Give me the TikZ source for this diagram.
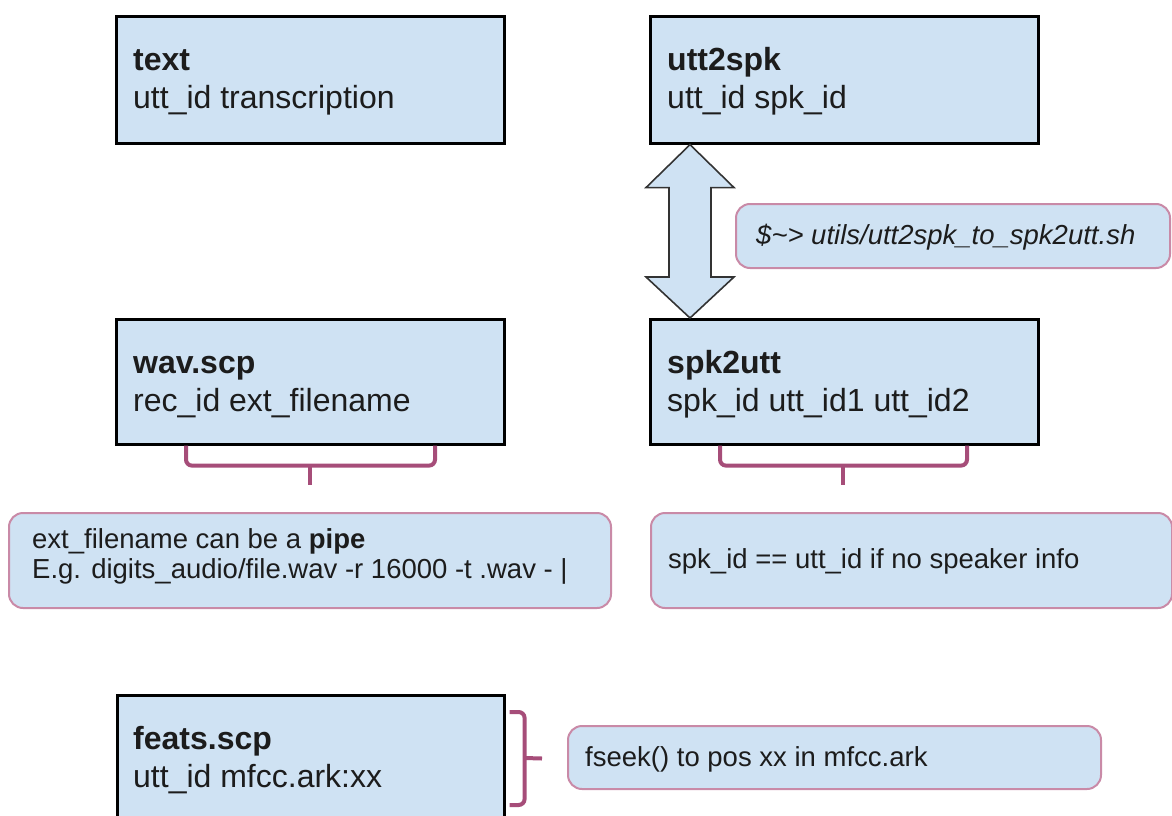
\documentclass[tikz,border=0pt]{standalone}
\usepackage{fontspec}
\setmainfont{Liberation Sans}
\usetikzlibrary{calc}

\definecolor{boxfill}{HTML}{CFE2F3}
\definecolor{calloutline}{HTML}{C98AA7}
\definecolor{bracecol}{HTML}{A64D79}
\definecolor{inkcol}{HTML}{1C1C1C}

\tikzset{
  filebox/.style={draw=black, line width=2.6pt, fill=boxfill, inner sep=0pt, anchor=north west},
  callout/.style={draw=calloutline, line width=2pt, fill=boxfill, rounded corners=14pt, inner sep=0pt, anchor=north west},
  % multi-line labels are placed by the baseline of their last line
  boxtext/.style={anchor=base west, inner sep=0pt, text=inkcol, align=left, font=\fontsize{32}{38}\selectfont},
  notetext/.style={anchor=base west, inner sep=0pt, text=inkcol, align=left, font=\fontsize{27.5}{30}\selectfont},
  bracket/.style={draw=bracecol, line width=4pt, rounded corners=6pt},
  stem/.style={draw=bracecol, line width=4pt},
  bigarrow/.style={draw=black!80, line width=1.6pt, fill=boxfill, line join=miter},
}

\begin{document}
\begin{tikzpicture}[x=1pt, y=-1pt]
  \useasboundingbox (0,0) rectangle (1172,816);

  % file boxes
  \node[filebox, minimum width=388pt, minimum height=127pt] (textbox) at (115,15) {};
  \node[boxtext] (textlbl) at (133,108) {\textbf{text}\\utt\_id transcription};

  \node[filebox, minimum width=388pt, minimum height=127pt] (uttbox) at (649,15) {};
  \node[boxtext] (uttlbl) at (667,108) {\textbf{utt2spk}\\utt\_id spk\_id};

  \node[filebox, minimum width=388pt, minimum height=125pt] (wavbox) at (115,318) {};
  \node[boxtext] (wavlbl) at (133,411) {\textbf{wav.scp}\\rec\_id ext\_filename};

  \node[filebox, minimum width=388pt, minimum height=125pt] (spkbox) at (649,318) {};
  \node[boxtext] (spklbl) at (667,411) {\textbf{spk2utt}\\spk\_id utt\_id1 utt\_id2};

  \node[filebox, minimum width=387pt, minimum height=140pt] (featbox) at (116,694) {};
  \node[boxtext] (featlbl) at (133,787) {\textbf{feats.scp}\\utt\_id mfcc.ark:xx};

  % callouts
  \node[callout, minimum width=434pt, minimum height=64pt] (cmdnote) at (735,203) {};
  \node[notetext] (cmdlbl) at (756,244) {\itshape \$\textasciitilde> utils/utt2spk\_to\_spk2utt.sh};

  \node[callout, minimum width=602pt, minimum height=95pt] (pipenote) at (8,512) {};
  \node[notetext] (pipelbl) at (32,578) {ext\_filename can be a \textbf{pipe}\\E.g. digits\_audio/file.wav -r 16000 -t .wav - |};

  \node[callout, minimum width=521pt, minimum height=95pt] (spknote) at (650,512) {};
  \node[notetext] (spknotelbl) at (668,568) {spk\_id == utt\_id if no speaker info};

  \node[callout, minimum width=533pt, minimum height=63pt] (seeknote) at (567,725) {};
  \node[notetext] (seeklbl) at (585,766) {fseek() to pos xx in mfcc.ark};

  % conversion between utt2spk and spk2utt
  \coordinate (tipA) at ($(uttbox.south west)+(41,0)$);
  \coordinate (tipB) at ($(spkbox.north west)+(41,0)$);
  \draw[bigarrow] (tipA)
    -- ++(44,43) -- ++(-23,0) -- ($(tipB)+(21,-41)$) -- ++(23,0)
    -- (tipB)
    -- ++(-44,-41) -- ++(23,0) -- ($(tipA)+(-21,43)$) -- ++(-23,0) -- cycle;

  % bracket under wav.scp
  \coordinate (wavL) at ($(wavbox.south west)+(71,0)$);
  \coordinate (wavR) at ($(wavbox.south west)+(320,0)$);
  \coordinate (wavM) at ($(wavbox.south west)+(195,20)$);
  \path[bracket] (wavL) |- (wavM) -| (wavR);
  \path[stem] (wavM) -- ($(pipenote.north west)+(302,-27)$);

  % bracket under spk2utt
  \coordinate (spkL) at ($(spkbox.south west)+(71,0)$);
  \coordinate (spkR) at ($(spkbox.south west)+(318,0)$);
  \coordinate (spkM) at ($(spkbox.south west)+(194,20)$);
  \path[bracket] (spkL) |- (spkM) -| (spkR);
  \path[stem] (spkM) -- ($(spknote.north west)+(193,-27)$);

  % bracket beside feats.scp
  \coordinate (featT) at ($(featbox.north east)+(4,18)$);
  \coordinate (featB) at ($(featbox.north east)+(4,111)$);
  \coordinate (featM) at ($(featbox.north east)+(19,64)$);
  \path[bracket] (featT) -| (featM) |- (featB);
  \path[stem] (featM) -- ($(seeknote.west)+(-25,1)$);
\end{tikzpicture}
\end{document}
